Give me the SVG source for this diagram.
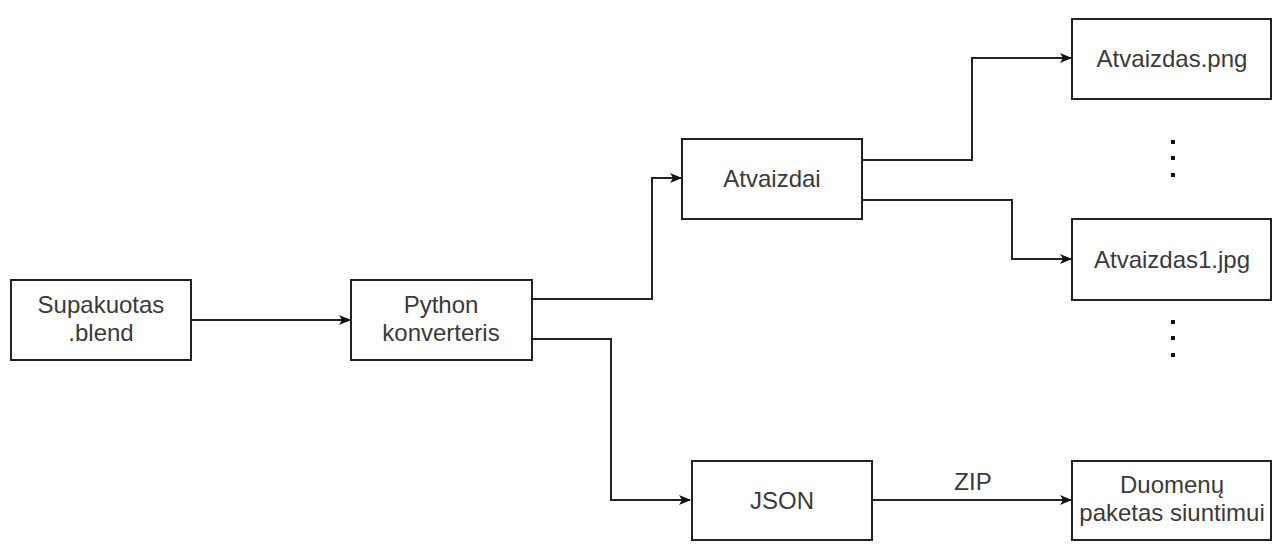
<svg xmlns="http://www.w3.org/2000/svg" width="1272" height="545" viewBox="0 0 1272 545">
<style>
.box{fill:#fff;stroke:#222;stroke-width:2}
.t{font-family:"Liberation Sans",Arial,sans-serif;font-size:24px;fill:#3a3a3a;text-anchor:middle}
.e{fill:none;stroke:#222;stroke-width:2}
.dot{fill:#111}
</style>
<defs>
<marker id="arr" viewBox="0 0 12 10" refX="11" refY="5" markerWidth="12" markerHeight="10" markerUnits="userSpaceOnUse" orient="auto">
<path d="M0,0 L12,5 L0,10 L3,5 Z" fill="#111"/>
</marker>
</defs>
<rect width="1272" height="545" fill="#fff"/>
<g id="connectors">
<path class="e" d="M191,320 H350" marker-end="url(#arr)"/>
<path class="e" d="M532,299 H652 V178 H681" marker-end="url(#arr)"/>
<path class="e" d="M532,339 H611 V500 H690" marker-end="url(#arr)"/>
<path class="e" d="M862,160 H972 V58 H1071" marker-end="url(#arr)"/>
<path class="e" d="M862,200 H1012 V259 H1071" marker-end="url(#arr)"/>
<path class="e" d="M872,500 H1071" marker-end="url(#arr)"/>
<text class="t" x="973" y="490">ZIP</text>
</g>
<g id="supakuotas">
<rect class="box" x="11" y="280" width="180" height="80"/>
<text class="t" x="101" y="313">Supakuotas</text>
<text class="t" x="101" y="341">.blend</text>
</g>
<g id="python">
<rect class="box" x="351" y="280" width="181" height="80"/>
<text class="t" x="441" y="313">Python</text>
<text class="t" x="441" y="341">konverteris</text>
</g>
<g id="atvaizdai">
<rect class="box" x="682" y="139" width="180" height="80"/>
<text class="t" x="772" y="187">Atvaizdai</text>
</g>
<g id="atvaizdas-png">
<rect class="box" x="1072" y="19" width="199" height="80"/>
<text class="t" x="1172" y="67">Atvaizdas.png</text>
</g>
<g id="dots1">
<rect class="dot" x="1171" y="140" width="4" height="4"/>
<rect class="dot" x="1171" y="156" width="4" height="4"/>
<rect class="dot" x="1171" y="173" width="4" height="4"/>
</g>
<g id="atvaizdas1-jpg">
<rect class="box" x="1072" y="219" width="199" height="81"/>
<text class="t" x="1172" y="268">Atvaizdas1.jpg</text>
</g>
<g id="dots2">
<rect class="dot" x="1171" y="320" width="4" height="4"/>
<rect class="dot" x="1171" y="336" width="4" height="4"/>
<rect class="dot" x="1171" y="353" width="4" height="4"/>
</g>
<g id="json">
<rect class="box" x="692" y="461" width="180" height="79"/>
<text class="t" x="782" y="509">JSON</text>
</g>
<g id="duomenu">
<rect class="box" x="1072" y="461" width="199" height="79"/>
<text class="t" x="1172" y="493">Duomenų</text>
<text class="t" x="1172" y="521">paketas siuntimui</text>
</g>
</svg>
